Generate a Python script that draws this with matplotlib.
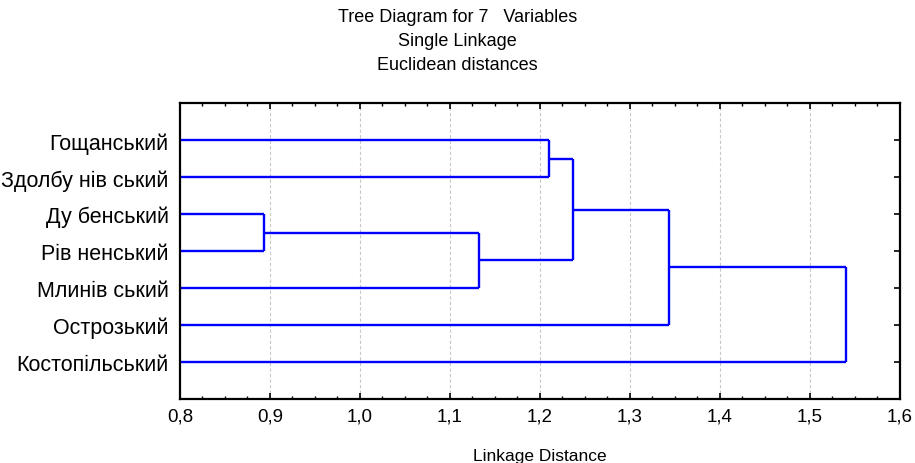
import matplotlib
matplotlib.use("Agg")
import matplotlib.pyplot as plt
from matplotlib.ticker import MultipleLocator, FuncFormatter

# ---- data ----
labels = ["Гощанський", "Здолбу нів ський", "Ду бенський", "Рів ненський",
          "Млинів ський", "Острозький", "Костопільський"]
# merges: (cluster a, cluster b, linkage distance); new clusters numbered from len(labels)
merge_a = [2, 7, 0, 8, 10, 11]
merge_b = [3, 4, 1, 9, 5, 6]
merge_dist = [0.893, 1.132, 1.210, 1.237, 1.343, 1.540]
x_ticks = [0.8, 0.9, 1.0, 1.1, 1.2, 1.3, 1.4, 1.5, 1.6]

FONT = ["Liberation Sans", "DejaVu Sans"]
plt.rcParams["font.family"] = FONT

fig = plt.figure(figsize=(9.15, 4.64), dpi=100)
ax = fig.add_axes([0.1967, 0.138, 0.7869, 0.637])

xmin, xmax = x_ticks[0], x_ticks[-1]
n = len(labels)
ypos = {i: i + 1 for i in range(n)}
xpos = {i: xmin for i in range(n)}
color = (0, 0, 1)
lw = 1.7
for k, (a, b, d) in enumerate(zip(merge_a, merge_b, merge_dist)):
    ya, yb = ypos[a], ypos[b]
    xa, xb = xpos[a], xpos[b]
    ax.plot([xa, d], [ya, ya], color=color, lw=lw, solid_capstyle="butt")
    ax.plot([xb, d], [yb, yb], color=color, lw=lw, solid_capstyle="butt")
    ax.plot([d, d], [ya, yb], color=color, lw=lw, solid_capstyle="butt")
    new = n + k
    ypos[new] = (ya + yb) / 2
    xpos[new] = d

ax.set_xlim(xmin, xmax)
ax.set_ylim(n + 1, 0)
ax.set_yticks(range(1, n + 1))
ax.set_yticklabels(labels, fontsize=15.5)
ax.set_xticks(x_ticks)
ax.xaxis.set_major_formatter(FuncFormatter(lambda v, p: f"{v:.1f}".replace(".", ",")))
ax.xaxis.set_minor_locator(MultipleLocator(0.025))
for t in ax.get_xticklabels():
    t.set_fontsize(13.5)
ax.tick_params(axis="x", which="major", direction="in", length=4.5, width=1.2,
               top=True, bottom=True, pad=6)
ax.tick_params(axis="x", which="minor", direction="in", length=2.5, width=1.0,
               top=True, bottom=True)
ax.tick_params(axis="y", which="major", direction="in", length=4.5, width=1.2,
               left=True, right=True, pad=8)
ax.grid(True, axis="x", which="major", linestyle=(0, (3, 2)), color="#c8c8c8", lw=0.8)
ax.set_axisbelow(True)
for s in ax.spines.values():
    s.set_linewidth(1.6)
    s.set_color("black")

ax.set_xlabel("Linkage Distance", fontsize=12.5, labelpad=17)

fig.text(0.5, 1 - 17 / 464, "Tree Diagram for 7   Variables", ha="center", va="center", fontsize=13)
fig.text(0.5, 1 - 41 / 464, "Single Linkage", ha="center", va="center", fontsize=13)
fig.text(0.5, 1 - 65 / 464, "Euclidean distances", ha="center", va="center", fontsize=13)

fig.savefig("out.png", dpi=100)
